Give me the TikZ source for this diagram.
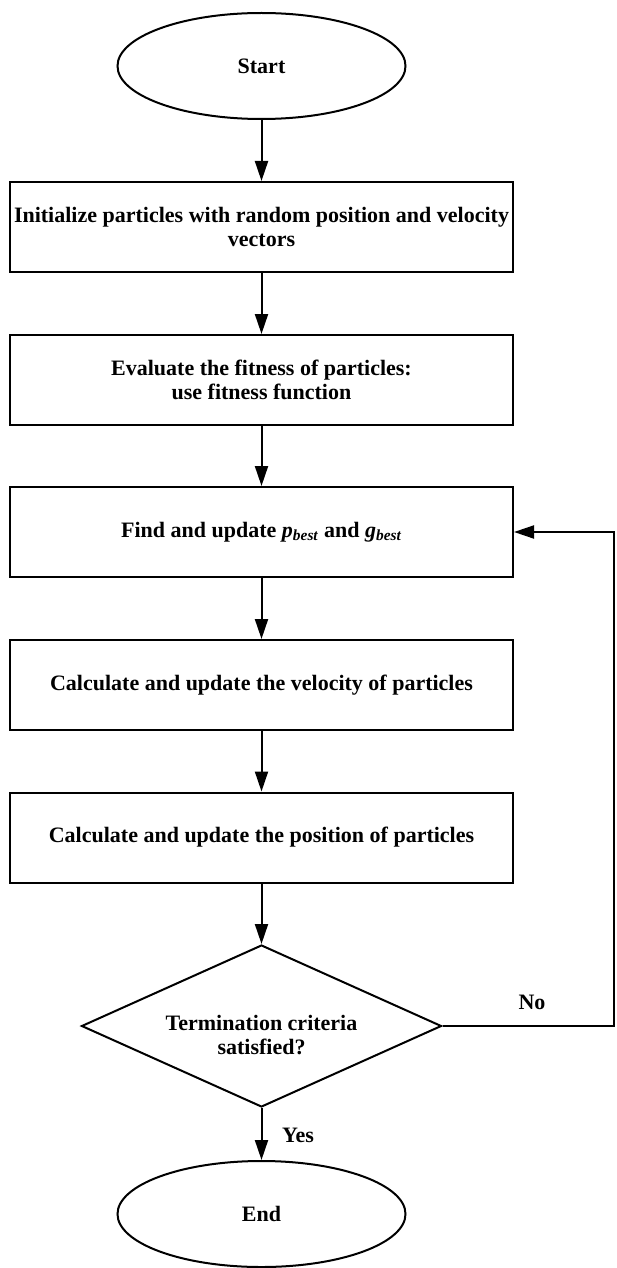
\documentclass[tikz,border=0pt]{standalone}
\usepackage{fontspec}
\setmainfont{Liberation Serif}
\usetikzlibrary{shapes.geometric,arrows.meta}
\begin{document}
\begin{tikzpicture}[x=1pt,y=-1pt,line width=2pt,
  txt/.style={font=\fontsize{22}{24}\selectfont\bfseries,align=center},
  term/.style={txt,draw,ellipse,minimum width=288pt,minimum height=106pt,inner sep=0pt},
  proc/.style={txt,draw,rectangle,minimum width=503pt,minimum height=90pt,inner sep=0pt},
  decision/.style={draw,diamond,minimum width=360pt,minimum height=162pt,inner sep=0pt},
  arr/.style={-{Triangle[length=20pt,width=13pt]}}]
\useasboundingbox (0,0) rectangle (616,1268);
\node[term] (start) at (261.5,66) {Start};
\node[proc] (b1) at (261.5,227) {Initialize particles with random position and velocity\\vectors};
\node[proc] (b2) at (261.5,380) {Evaluate the fitness of particles:\\use fitness function};
\node[proc] (b3) at (261.5,532) {Find and update \textit{p}\textsubscript{\textit{best}} and \textit{g}\textsubscript{\textit{best}}};
\node[proc] (b4) at (261.5,685) {Calculate and update the velocity of particles};
\node[proc] (b5) at (261.5,837.5) {Calculate and update the position of particles};
\node[decision] (dec) at (261.5,1026) {};
\node[txt] (dectext) at (261.5,1035) {Termination criteria\\satisfied?};
\node[term] (end) at (261.5,1214) {End};
\node[txt] (yes) at (298,1135) {Yes};
\node[txt] (no) at (532,1002) {No};
\coordinate (r1) at (614,1026);
\draw[arr] (start) -- (b1);
\draw[arr] (b1) -- (b2);
\draw[arr] (b2) -- (b3);
\draw[arr] (b3) -- (b4);
\draw[arr] (b4) -- (b5);
\draw[arr] (b5) -- (dec);
\draw[arr] (dec) -- (end);
\draw[arr] (dec.east) -- (r1) |- (b3.east);
\end{tikzpicture}
\end{document}
